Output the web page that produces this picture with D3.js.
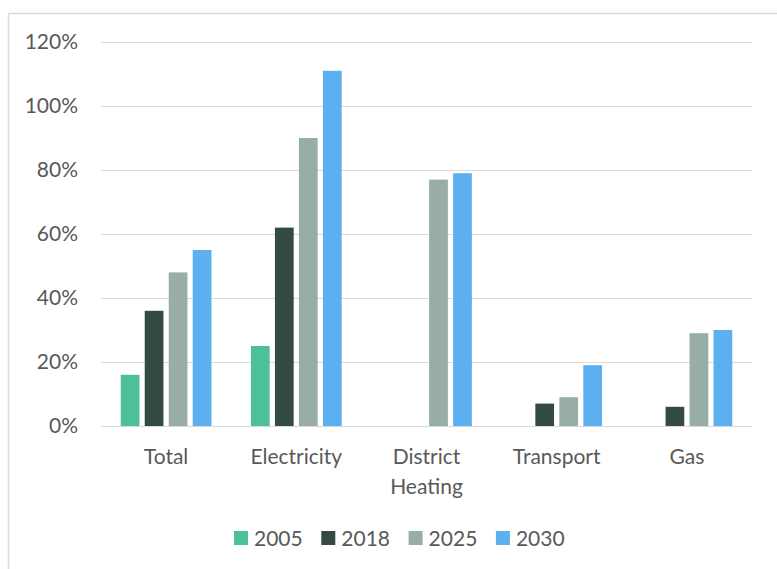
<!DOCTYPE html>
<html>
<head>
<meta charset="utf-8">
<script src="https://cdn.jsdelivr.net/npm/d3@7"></script>
<style>
  html, body { margin: 0; padding: 0; background: #fff; }
  svg { display: block; }
  text { font-family: Lato, "Open Sans", sans-serif; fill: #595959; }
</style>
</head>
<body>
<svg id="chart" width="777" height="569"></svg>
<script>
// Share of renewables by sector
const categories = ["Total", "Electricity", "District Heating", "Transport", "Gas"];
const years = ["2005", "2018", "2025", "2030"];
const values2005 = [16, 25, null, null, null];
const values2018 = [36, 62, null, 7, 6];
const values2025 = [48, 90, 77, 9, 29];
const values2030 = [55, 111, 79, 19, 30];
const yTicks = [0, 20, 40, 60, 80, 100, 120];
const colors = ["#4dbf9b", "#344b42", "#98aea5", "#5cb0ef"];

const seriesByYear = [values2005, values2018, values2025, values2030];

const svg = d3.select("#chart");
const W = 777, H = 569;
const margin = { left: 101, right: 25, top: 42, bottom: 143 };
const plotW = W - margin.left - margin.right;
const plotH = H - margin.top - margin.bottom;
const fontSize = "21px";

// Outer frame (top and left edges visible)
svg.append("line").attr("x1", 8.5).attr("x2", W).attr("y1", 13.5).attr("y2", 13.5)
  .attr("stroke", "#d9d9d9").attr("stroke-width", 1.5);
svg.append("line").attr("x1", 8.5).attr("x2", 8.5).attr("y1", 13.5).attr("y2", H)
  .attr("stroke", "#d9d9d9").attr("stroke-width", 1.5);

const g = svg.append("g").attr("transform", `translate(${margin.left},${margin.top})`);

const x0 = d3.scaleBand().domain(categories).range([0, plotW]).padding(0);
const x1 = d3.scaleBand().domain(years).range([-48, 48]).paddingInner(0.22).paddingOuter(0.11);
const y = d3.scaleLinear().domain([0, 120]).range([plotH, 0]);

// Gridlines
g.append("g")
  .selectAll("line")
  .data(yTicks)
  .join("line")
  .attr("x1", 0).attr("x2", plotW)
  .attr("y1", d => Math.round(y(d)) + 0.5).attr("y2", d => Math.round(y(d)) + 0.5)
  .attr("stroke", "#d9d9d9").attr("stroke-width", 1.2);

// Y axis labels
const yAxis = d3.axisLeft(y).tickValues(yTicks).tickFormat(d => d + "%").tickSize(0).tickPadding(23);
const yg = g.append("g").call(yAxis);
yg.select(".domain").remove();
yg.selectAll("text").style("font-size", fontSize).attr("fill", "#595959")
  .style("font-family", "Lato, 'Open Sans', sans-serif");

// Bars
const rows = categories.map((c, i) => ({
  category: c,
  bars: years.map((yr, j) => ({ year: yr, value: seriesByYear[j][i], color: colors[j] }))
}));

const groups = g.append("g").selectAll("g")
  .data(rows)
  .join("g")
  .attr("transform", d => `translate(${x0(d.category) + x0.bandwidth() / 2},0)`);

groups.selectAll("rect")
  .data(d => d.bars.filter(b => b.value != null))
  .join("rect")
  .attr("x", d => x1(d.year))
  .attr("width", x1.bandwidth())
  .attr("y", d => y(d.value))
  .attr("height", d => y(0) - y(d.value))
  .attr("fill", d => d.color);

// Category labels (wrapped on spaces)
const catLabels = g.append("g").selectAll("text")
  .data(categories)
  .join("text")
  .attr("text-anchor", "middle")
  .attr("x", d => x0(d) + x0.bandwidth() / 2)
  .attr("y", plotH + 38)
  .style("font-size", fontSize);
catLabels.each(function(d) {
  const words = d.split(" ");
  const t = d3.select(this);
  words.forEach((w, i) => {
    t.append("tspan").attr("x", x0(d) + x0.bandwidth() / 2).attr("dy", i === 0 ? 0 : 30).text(w);
  });
});

// Legend
const legendItems = years.map((yr, j) => ({ year: yr, color: colors[j] }));
const legend = svg.append("g").attr("transform", "translate(234,538)");
const spacing = 87.3;
const li = legend.selectAll("g").data(legendItems).join("g")
  .attr("transform", (d, i) => `translate(${i * spacing},0)`);
li.append("rect").attr("x", 0).attr("y", -7).attr("width", 14).attr("height", 14).attr("fill", d => d.color);
li.append("text").attr("x", 20).attr("y", 8).style("font-size", fontSize).text(d => d.year);
</script>
</body>
</html>
